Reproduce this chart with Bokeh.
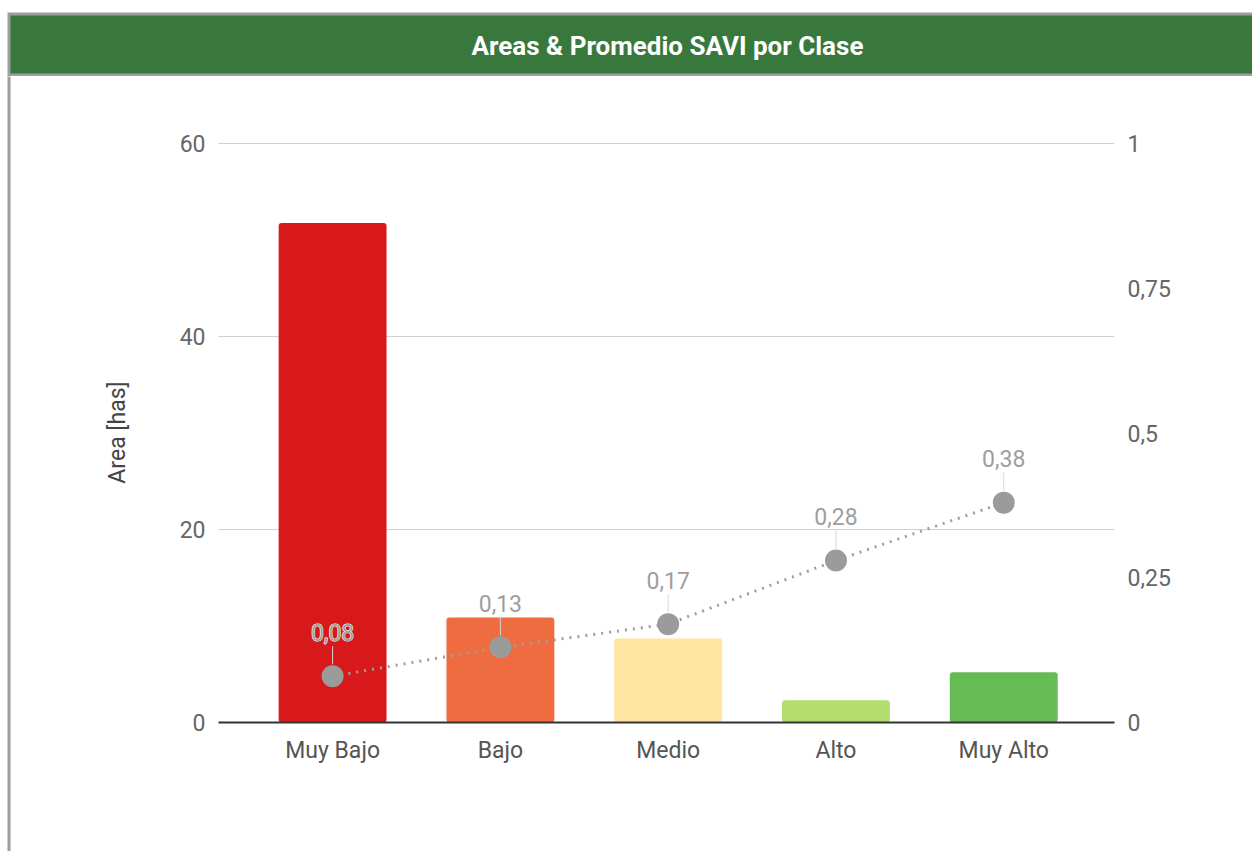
from bokeh.plotting import figure
from bokeh.models import Range1d, LinearAxis, FixedTicker, ColumnDataSource
from bokeh.layouts import column, row
from bokeh.core.properties import value
from bokeh.embed import file_html
from bokeh.resources import INLINE

# ---- data ----
categories = ["Muy Bajo", "Bajo", "Medio", "Alto", "Muy Alto"]
area_has = [51.8, 10.9, 8.7, 2.3, 5.2]
savi_mean = [0.08, 0.13, 0.17, 0.28, 0.38]
bar_colors = ["#D7191C", "#EE6C40", "#FFE5A0", "#B3DE6E", "#67BB55"]
left_ticks = [0, 20, 40, 60]
right_ticks = [0, 0.25, 0.5, 0.75, 1]
right_tick_labels = ["0", "0,25", "0,5", "0,75", "1"]
savi_labels = [f"{v:.2f}".replace(".", ",") for v in savi_mean]
title_text = "Areas & Promedio SAVI por Clase"

FONT = "Roboto"
W, H = 1252, 851
HEAD_H = 76
STRIP_W = 11
BORDER = "#9e9e9e"
GREEN = "#38783D"

# ---------------- header ----------------
hdr = figure(width=W, height=HEAD_H, output_backend="svg", toolbar_location=None,
             x_range=Range1d(0, W), y_range=Range1d(HEAD_H, 0),
             min_border=0, outline_line_color=None, frame_align=False,
             background_fill_color="white", border_fill_color="white")
hdr.axis.visible = False
hdr.grid.visible = False
hdr.quad(left=[7], right=[W + 10], top=[12], bottom=[HEAD_H + 1],
         fill_color=BORDER, line_color=None)
hdr.quad(left=[10], right=[W + 10], top=[15], bottom=[73],
         fill_color=GREEN, line_color=None)
hdr.text(x=[667], y=[45], text=[title_text], text_font=value(FONT),
         text_font_size="26px", text_font_style="bold", text_color="white",
         text_align="center", text_baseline="middle")

# ---------------- left border strip ----------------
CH = H - HEAD_H
strip = figure(width=STRIP_W, height=CH, output_backend="svg", toolbar_location=None,
               x_range=Range1d(0, STRIP_W), y_range=Range1d(CH, 0),
               min_border=0, outline_line_color=None, frame_align=False,
               background_fill_color="white", border_fill_color="white")
strip.axis.visible = False
strip.grid.visible = False
strip.quad(left=[7], right=[10], top=[-1], bottom=[CH + 1],
           fill_color=BORDER, line_color=None)

# ---------------- chart ----------------
CW = W - STRIP_W
FRAME_L, FRAME_R, FRAME_T, FRAME_B = 218 - STRIP_W, 1114 - STRIP_W, 142 - HEAD_H, 722 - HEAD_H
Y_TOP = 60.15
PPU_RIGHT = (FRAME_B - FRAME_T) / (Y_TOP / 60.0)

xs = list(range(len(categories)))
src = ColumnDataSource(dict(x=xs, area=area_has, color=bar_colors,
                            savi=savi_mean, lab=savi_labels,
                            s0=[v + 12 / PPU_RIGHT for v in savi_mean],
                            s1=[v + 30 / PPU_RIGHT for v in savi_mean]))

p = figure(width=CW, height=CH, output_backend="svg", toolbar_location=None,
           x_range=Range1d(-0.68, 4.66), y_range=Range1d(0, Y_TOP),
           min_border_left=FRAME_L, min_border_right=CW - FRAME_R,
           min_border_top=FRAME_T, min_border_bottom=CH - FRAME_B,
           outline_line_color=None, frame_align=False,
           background_fill_color="white", border_fill_color="white")
p.extra_y_ranges = {"savi": Range1d(0, Y_TOP / 60.0)}

p.xgrid.visible = False
p.ygrid.ticker = FixedTicker(ticks=left_ticks)
p.ygrid.grid_line_color = "#d0d0d0"
p.ygrid.grid_line_width = 1

ya = p.yaxis[0]
ya.ticker = FixedTicker(ticks=left_ticks)
ya.axis_line_color = None
ya.major_tick_line_color = None
ya.minor_tick_line_color = None
ya.major_label_standoff = 7
ya.major_label_text_font = FONT
ya.major_label_text_font_size = "23px"
ya.major_label_text_color = "#666666"
ya.axis_label = "Area [has]"
ya.axis_label_text_font = FONT
ya.axis_label_text_font_size = "23px"
ya.axis_label_text_font_style = "normal"
ya.axis_label_text_color = "#444444"
ya.axis_label_standoff = 46

ra = LinearAxis(y_range_name="savi", ticker=FixedTicker(ticks=right_ticks),
                major_label_overrides=dict(zip(right_ticks, right_tick_labels)))
ra.axis_line_color = None
ra.major_tick_line_color = None
ra.minor_tick_line_color = None
ra.major_label_standoff = 7
ra.major_label_text_font = FONT
ra.major_label_text_font_size = "23px"
ra.major_label_text_color = "#666666"
p.add_layout(ra, "right")

xa = p.xaxis[0]
xa.ticker = FixedTicker(ticks=xs)
xa.major_label_overrides = dict(zip(xs, categories))
xa.axis_line_color = "#333333"
xa.axis_line_width = 2
xa.major_tick_line_color = None
xa.minor_tick_line_color = None
xa.major_label_standoff = 8
xa.major_label_text_font = FONT
xa.major_label_text_font_size = "23px"
xa.major_label_text_color = "#555555"

p.vbar(x="x", top="area", width=0.643, bottom=0, color="color",
       line_color=None, border_radius=3, source=src)

p.line(x="x", y="savi", source=src, y_range_name="savi",
       line_color="#9e9e9e", line_width=3, line_dash="2 6")
p.segment(x0="x", y0="s0", x1="x", y1="s1", source=src, y_range_name="savi",
          line_color="#d6d6d6", line_width=1)
p.scatter(x="x", y="savi", source=src, y_range_name="savi", size=22,
          fill_color="#9b9b9b", line_color=None)
# white halo, then gray text on top
p.text(x="x", y="savi", text="lab", source=src, y_range_name="savi",
       text_font=value(FONT), text_font_size="23px", text_color="white",
       text_align="center", text_baseline="middle", y_offset=-44,
       text_outline_color="white")
p.text(x="x", y="savi", text="lab", source=src, y_range_name="savi",
       text_font=value(FONT), text_font_size="23px", text_color="#9e9e9e",
       text_align="center", text_baseline="middle", y_offset=-44)

layout = column(hdr, row(strip, p, spacing=0), spacing=0)
open("out.html", "w").write(file_html(layout, INLINE))
